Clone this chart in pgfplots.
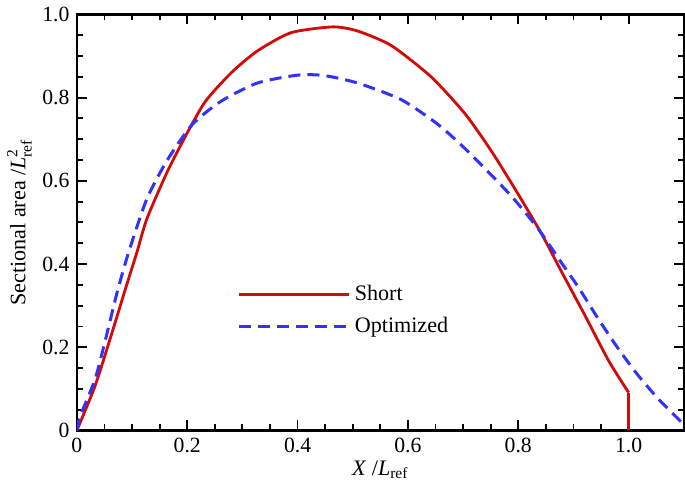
\documentclass[border=0pt]{standalone}
\usepackage{fontspec}
\setmainfont{Liberation Serif}
\usepackage{amsmath}
\usepackage{pgfplots}
\pgfplotsset{compat=1.18}
\definecolor{cred}{RGB}{210,10,10}
\definecolor{cblue}{RGB}{50,50,255}
\begin{document}
\fontsize{10.5}{12}\selectfont
\begin{tikzpicture}
\begin{axis}[
  scale only axis,
  width=302pt, height=207pt,
  xmin=0, xmax=1.1, ymin=0, ymax=1.0,
  xtick={0,0.2,0.4,0.6,0.8,1.0},
  xticklabels={0,0.2,0.4,0.6,0.8,1.0},
  ytick={0,0.2,0.4,0.6,0.8,1.0},
  yticklabels={0,0.2,0.4,0.6,0.8,1.0},
  minor x tick num=3, minor y tick num=3,
  tick align=inside,
  major tick length=5pt, minor tick length=3pt,
  every tick/.style={black, line width=0.9pt},
  axis line style={line width=1.2pt},
  tick label style={font=\fontsize{10.8}{12}\selectfont},
  label style={font=\fontsize{11}{13}\selectfont},
  xlabel={\textit{X} /\textit{L}$_{\text{ref}}$},
  ylabel={Sectional area /\textit{L}$^{\text{2}}_{\text{ref}}$},
  xlabel style={yshift=3pt},
  ylabel style={yshift=-2pt},
  legend style={at={(axis cs:0.29,0.36)}, anchor=north west, draw=none, fill=none,
    inner sep=0pt, row sep=3pt, font=\fontsize{11}{13}\selectfont},
  legend cell align=left,
  legend image code/.code={\draw[#1] (0pt,0pt) -- (55pt,0pt);},
]
\addplot[cred, line width=1.4pt, smooth, tension=0.4] coordinates {
(0,0) (0.033,0.107) (0.064,0.236) (0.088,0.340) (0.109,0.429) (0.127,0.509)
(0.164,0.622) (0.2,0.715) (0.233,0.791) (0.28,0.86) (0.327,0.912) (0.388,0.956)
(0.464,0.970) (0.509,0.960) (0.570,0.925) (0.642,0.850) (0.703,0.762)
(0.751,0.672) (0.797,0.574) (0.842,0.473) (0.879,0.380) (0.921,0.276)
(0.964,0.167) (1.0,0.091)
};
\addlegendentry{Short}
\addplot[cblue, line width=1.5pt, dash pattern=on 6pt off 3.5pt, smooth, tension=0.4] coordinates {
(0,0) (0.006,0.034) (0.033,0.123) (0.052,0.219) (0.073,0.332) (0.094,0.429)
(0.127,0.557) (0.164,0.650) (0.209,0.735) (0.261,0.791) (0.327,0.835) (0.4,0.854)
(0.448,0.853) (0.509,0.835) (0.588,0.795) (0.655,0.735) (0.703,0.678)
(0.751,0.614) (0.791,0.558) (0.836,0.485) (0.873,0.413) (0.909,0.344)
(0.945,0.268) (0.982,0.195) (1.018,0.131) (1.055,0.074) (1.091,0.026) (1.1,0.015)
};
\addlegendentry{Optimized}
\addplot[cred, line width=1.4pt, forget plot] coordinates {(1.0,0.091) (1.0,0)};
\end{axis}
\end{tikzpicture}
\end{document}
